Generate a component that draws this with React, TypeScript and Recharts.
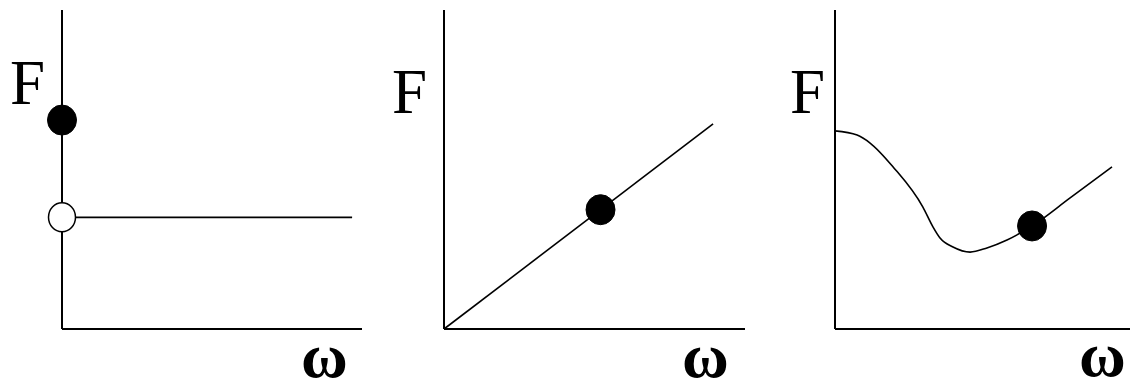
import React from "react";
import {
  ComposedChart,
  Line,
  Scatter,
  XAxis,
  YAxis,
  Label,
} from "recharts";

// panel 1: constant force with a jump at zero frequency
const flatOmega = [0, 9.67];
const flatForce = [3.5, 3.5];
const jumpOmega = [0];
const jumpForce = [6.55];
const openOmega = [0];
const openForce = [3.5];

// panel 2: linear
const linOmega = [0, 8.94];
const linForce = [0, 6.43];
const linDotOmega = [5.2];
const linDotForce = [3.74];

// panel 3: dip and rise
const curveOmega = [0, 0.75, 1.19, 1.97, 2.98, 3.32, 3.56, 4.0, 4.58, 5.15, 5.83, 6.68, 7.97, 9.39];
const curveForce = [6.21, 6.08, 5.83, 5.08, 3.82, 3.2, 2.85, 2.57, 2.41, 2.54, 2.79, 3.23, 4.11, 5.08];
const curveDotOmega = [6.68];
const curveDotForce = [3.23];

const yLabel = "F";
const xLabel = "ω";

const zip = (w: number[], f: number[]) => w.map((v, i) => ({ w: v, F: f[i] }));

const serif = '"Liberation Serif", "Times New Roman", serif';

const filledDot = (p: any) => (
  <ellipse cx={p.cx} cy={p.cy} rx={14.5} ry={15} fill="#000" stroke="#000" />
);
const openDot = (p: any) => (
  <ellipse cx={p.cx} cy={p.cy} rx={13.5} ry={14.5} fill="#fff" stroke="#000" strokeWidth={1.5} />
);

interface PanelProps {
  left: number;
  width: number;
  margin: { top: number; right: number; bottom: number; left: number };
  fx: number; // F offset from the y axis
  fy: number; // F baseline
  wx: number; // omega offset from the plot right edge
  wy: number; // omega baseline
  lines: { data: { w: number; F: number }[]; type: "linear" | "monotone" }[];
  dots: { data: { w: number; F: number }[]; open?: boolean }[];
}

function Panel({ left, width, margin, fx, fy, wx, wy, lines, dots }: PanelProps) {
  return (
    <div style={{ position: "absolute", left, top: 0 }}>
      <ComposedChart width={width} height={390} margin={margin}>
        <XAxis
          dataKey="w"
          type="number"
          domain={[0, 10]}
          height={1}
          tick={false}
          tickLine={false}
          axisLine={{ stroke: "#000", strokeWidth: 2 }}
        >
          <Label
            content={(props: any) => {
              const vb = props.viewBox;
              return (
                <text x={vb.x + vb.width - wx} y={wy} fontFamily={serif} fontWeight="bold" fontSize={64}>
                  {xLabel}
                </text>
              );
            }}
          />
        </XAxis>
        <YAxis
          dataKey="F"
          type="number"
          domain={[0, 10]}
          width={1}
          tick={false}
          tickLine={false}
          axisLine={{ stroke: "#000", strokeWidth: 2 }}
        >
          <Label
            content={(props: any) => {
              const vb = props.viewBox;
              return (
                <text x={vb.x + vb.width - fx} y={fy} fontFamily={serif} fontSize={63}>
                  {yLabel}
                </text>
              );
            }}
          />
        </YAxis>
        {lines.map((l, i) => (
          <Line
            key={i}
            data={l.data}
            dataKey="F"
            type={l.type}
            stroke="#000"
            strokeWidth={1.6}
            dot={false}
            activeDot={false}
            isAnimationActive={false}
          />
        ))}
        {dots.map((d, i) => (
          <Scatter
            key={i}
            data={d.data}
            dataKey="F"
            shape={d.open ? openDot : filledDot}
            isAnimationActive={false}
          />
        ))}
      </ComposedChart>
    </div>
  );
}

export default function App() {
  return (
    <div style={{ position: "absolute", left: 0, top: 0, width: 1130, height: 390, background: "#fff", overflow: "hidden" }}>
      <Panel
        left={0}
        width={380}
        margin={{ top: 10, right: 18, bottom: 60, left: 61 }}
        fx={52}
        fy={104}
        wx={61}
        wy={377}
        lines={[{ data: zip(flatOmega, flatForce), type: "linear" }]}
        dots={[
          { data: zip(jumpOmega, jumpForce) },
          { data: zip(openOmega, openForce), open: true },
        ]}
      />
      <Panel
        left={380}
        width={375}
        margin={{ top: 10, right: 10, bottom: 60, left: 63 }}
        fx={52}
        fy={113}
        wx={63}
        wy={377}
        lines={[{ data: zip(linOmega, linForce), type: "linear" }]}
        dots={[{ data: zip(linDotOmega, linDotForce) }]}
      />
      <Panel
        left={755}
        width={375}
        margin={{ top: 10, right: 0, bottom: 60, left: 79 }}
        fx={45}
        fy={113}
        wx={51}
        wy={376}
        lines={[{ data: zip(curveOmega, curveForce), type: "monotone" }]}
        dots={[{ data: zip(curveDotOmega, curveDotForce) }]}
      />
    </div>
  );
}
